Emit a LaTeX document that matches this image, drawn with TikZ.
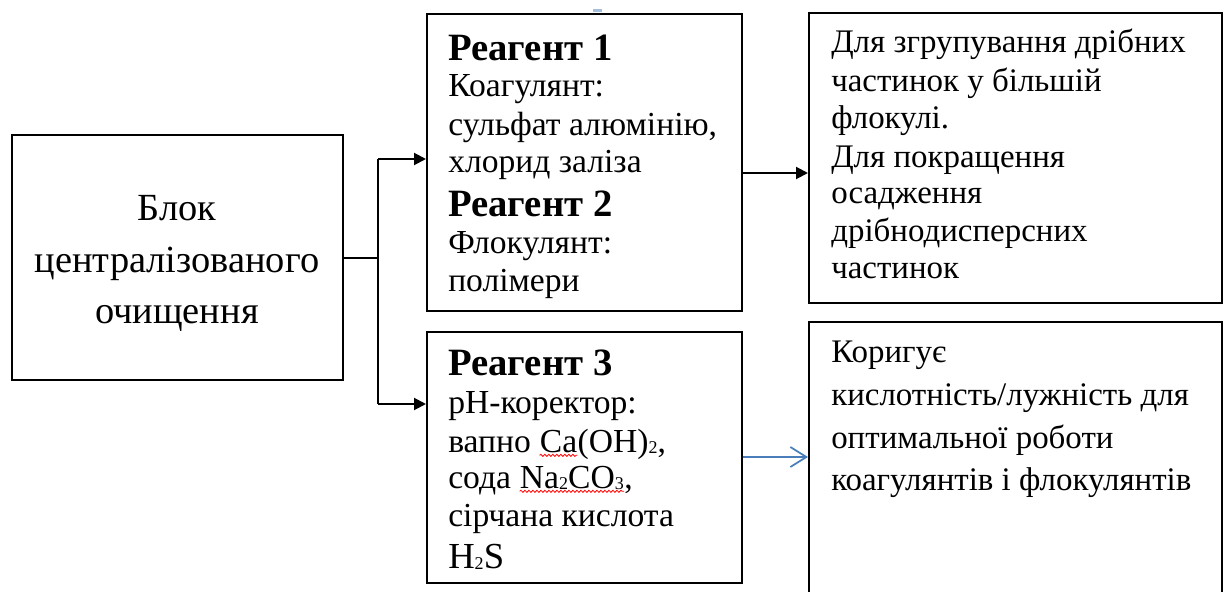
\documentclass[tikz,border=0pt]{standalone}
\usepackage{fontspec}
\setmainfont{Liberation Serif}
\usetikzlibrary{arrows.meta,fit,decorations.pathmorphing}
\newcommand\sbs[1]{\raisebox{-1.2pt}{\fontsize{13.5}{14}\selectfont #1}}
\definecolor{arrowblue}{RGB}{74,126,187}
\definecolor{markblue}{RGB}{165,190,220}
\begin{document}
\begin{tikzpicture}[x=0.75pt,y=-0.75pt,
  box/.style={draw,line width=1.5pt,inner sep=0pt},
  txt/.style={anchor=base west,inner sep=0pt,font=\fontsize{25.2}{28}\selectfont},
  rtxt/.style={anchor=base west,inner sep=0pt,font=\fontsize{24.7}{28}\selectfont},
  ctxt/.style={anchor=base,inner sep=0pt,font=\fontsize{28.8}{32}\selectfont},
  hd/.style={anchor=base west,inner sep=0pt,font=\fontsize{29}{32}\selectfont\bfseries},
  conn/.style={line width=1.5pt},
  tip/.style={-{Triangle[length=9pt,width=9pt]}},
  bluearrow/.style={line width=1.3pt,arrowblue,-{Straight Barb[length=12pt,width=15pt,line width=1.3pt]}},
  wavy/.style={red,line width=0.6pt,decorate,decoration={snake,amplitude=0.8pt,segment length=3pt}}]
\useasboundingbox (0,0) rectangle (1225,592);
\clip (0,0) rectangle (1225,592);

% boxes
\node[box,fit={(12,135)(343,380)}] (lb) {};
\node[box,fit={(427,14)(742,311)}] (r1) {};
\node[box,fit={(427,332)(742,583)}] (r3) {};
\node[box,fit={(809,13)(1222,303)}] (rt) {};
\node[box,fit={(809,322)(1222,620)}] (rb) {};

% small mark at top
\fill[markblue] (593,9) rectangle (602,12.5);

% left box text
\node[ctxt] (lb1) at (177,220) {Блок};
\node[ctxt] (lb2) at (177,272) {централізованого};
\node[ctxt] (lb3) at (177,323) {очищення};

% reagent 1/2 text
\node[hd]  (r1a) at (448,61)  {Реагент 1};
\node[txt] (r1b) at (448,97)  {Коагулянт:};
\node[txt] (r1c) at (448,135) {сульфат алюмінію,};
\node[txt] (r1d) at (448,172) {хлорид заліза};
\node[hd]  (r1e) at (448,216) {Реагент 2};
\node[txt] (r1f) at (448,253) {Флокулянт:};
\node[txt] (r1g) at (448,291) {полімери};

% reagent 3 text
\node[hd]  (r3a) at (448,375) {Реагент 3};
\node[txt] (r3b) at (448,413) {pH-коректор:};
\node[txt] (r3c) at (448,452) {вапно};
\node[txt] (ca)  at ([xshift=6.3pt]r3c.base east) {Ca};
\node[txt] (oh)  at (ca.base east) {(OH)\sbs{2},};
\node[txt] (r3d) at (448,488) {сода};
\node[txt] (na)  at ([xshift=6.3pt]r3d.base east) {Na\sbs{2}CO\sbs{3}};
\node[txt] (cm)  at (na.base east) {,};
\node[txt] (r3e) at (448,526) {сірчана кислота};
\node[txt,font=\fontsize{27.5}{30}\selectfont] (r3f) at (448,568) {H\sbs{2}S};
\draw[wavy] ([yshift=-2.5pt]ca.base west) -- ([yshift=-2.5pt]ca.base east);
\draw[wavy] ([yshift=-2.5pt]na.base west) -- ([yshift=-2.5pt]na.base east);

% right top text
\node[rtxt] (rt1) at (831,53)  {Для згрупування дрібних};
\node[rtxt] (rt2) at (831,92)  {частинок у більшій};
\node[rtxt] (rt3) at (831,128) {флокулі.};
\node[rtxt] (rt4) at (831,167) {Для покращення};
\node[rtxt] (rt5) at (831,203) {осадження};
\node[rtxt] (rt6) at (831,241) {дрібнодисперсних};
\node[rtxt] (rt7) at (831,278) {частинок};

% right bottom text
\node[rtxt] (rb1) at (831,362) {Коригує};
\node[rtxt] (rb2) at (831,405) {кислотність/лужність для};
\node[rtxt] (rb3) at (831,448) {оптимальної роботи};
\node[rtxt] (rb4) at (831,490) {коагулянтів і флокулянтів};

% connectors
\coordinate (j)  at (378,257.5);
\coordinate (jt) at (378,159);
\coordinate (jb) at (378,404);
\coordinate (h1) at (780,173);
\coordinate (h2) at (780,457);
\draw[conn] (lb.east) -- (j);
\draw[conn] (jt) -- (jb);
\draw[conn,tip] (jt) -- (r1.west |- jt);
\draw[conn,tip] (jb) -- (r3.west |- jb);
\draw[conn,tip] (r1.east |- h1) -- (rt.west |- h1);
\draw[bluearrow] (r3.east |- h2) -- (rb.west |- h2);
\end{tikzpicture}
\end{document}
